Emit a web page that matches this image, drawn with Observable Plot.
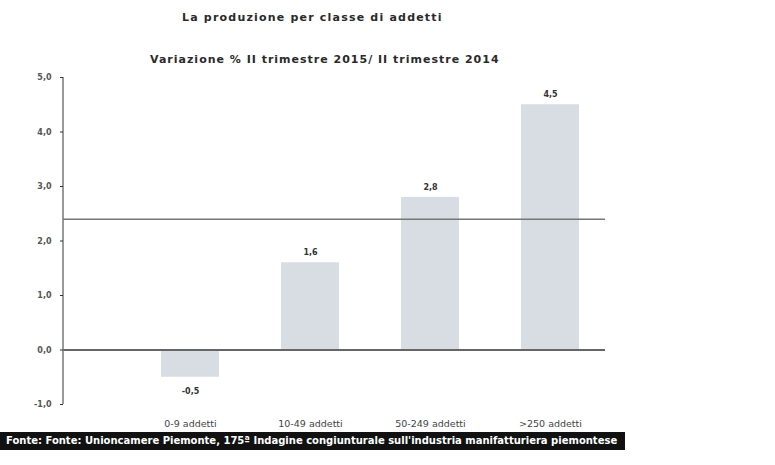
<!DOCTYPE html>
<html><head><meta charset="utf-8">
<script src="https://cdn.jsdelivr.net/npm/d3@7"></script>
<script src="https://cdn.jsdelivr.net/npm/@observablehq/plot@0.6"></script>
<style>
body{margin:0;background:#fff;font-family:"DejaVu Sans",Verdana,sans-serif;}
#wrap{position:relative;width:775px;height:465px;overflow:hidden;background:#fff;}
.t{position:absolute;font-weight:bold;color:#2a2a2a;white-space:nowrap;}
#chart{position:absolute;left:0;top:65px;}
#foot{position:absolute;left:0;top:432px;width:625px;height:18px;background:#111;color:#fff;font-size:10px;font-weight:bold;line-height:18px;padding-left:6px;box-sizing:border-box;white-space:nowrap;overflow:hidden;}
</style></head>
<body><div id="wrap">
<div class="t" id="title" style="left:182px;top:11px;font-size:11px;letter-spacing:1.2px;">La produzione per classe di addetti</div>
<div class="t" id="sub" style="left:150px;top:53px;font-size:11px;letter-spacing:1px;">Variazione % II trimestre 2015/ II trimestre 2014</div>
<div id="chart"></div>
<div id="foot">Fonte: Fonte: Unioncamere Piemonte, 175ª Indagine congiunturale sull'industria manifatturiera piemontese</div>
</div>
<script>
const categories = ["0-9 addetti", "10-49 addetti", "50-249 addetti", ">250 addetti"];
const values = [-0.5, 1.6, 2.8, 4.5];
const average = 2.4;
const yTicks = [-1, 0, 1, 2, 3, 4, 5];

const data = categories.map((c, i) => ({cat: c, v: values[i]}));
const pos = data.filter(d => d.v >= 0);
const neg = data.filter(d => d.v < 0);
const fmt = d => d3.format(".1f")(d).replace(".", ",").replace("\u2212", "-");

const plot = Plot.plot({
  width: 775, height: 375,
  marginTop: 12, marginBottom: 36, marginLeft: 63, marginRight: 170,
  style: {fontFamily: "DejaVu Sans, Verdana, sans-serif", fontSize: "8px", color: "#333"},
  x: {domain: categories, range: [161, 579], paddingInner: 0.517, paddingOuter: 0, label: null},
  y: {domain: [-1, 5], ticks: yTicks, label: null, tickFormat: fmt},
  marks: [
    Plot.barY(data, {x: "cat", y: "v", fill: "#d8dde4"}),
    Plot.ruleY([0], {stroke: "#666", strokeWidth: 2}),
    Plot.ruleY([average], {stroke: "#777", strokeWidth: 1.5}),
    (index, scales, values, dim) => {
      const g = d3.create("svg:g");
      g.append("line")
        .attr("x1", dim.marginLeft).attr("x2", dim.marginLeft)
        .attr("y1", scales.y(5)).attr("y2", scales.y(-1))
        .attr("stroke", "#777").attr("stroke-width", 1.5);
      return g.node();
    },
    Plot.axisY({ticks: yTicks, tickFormat: fmt, tickSize: 3, tickPadding: 9, fontWeight: "bold", fill: "#555"}),
    Plot.axisX({tickSize: 0, tickPadding: 16, fill: "#444", fontSize: 9.5}),
    Plot.text(pos, {x: "cat", y: "v", text: d => fmt(d.v), dy: -10, fontWeight: "bold", fontSize: 8, fill: "#333"}),
    Plot.text(neg, {x: "cat", y: "v", text: d => fmt(d.v), dy: 14, fontWeight: "bold", fontSize: 8, fill: "#333"})
  ]
});
document.getElementById("chart").appendChild(plot);
</script>
</body></html>
